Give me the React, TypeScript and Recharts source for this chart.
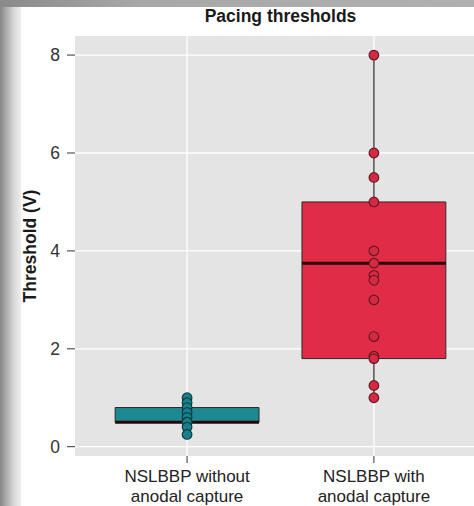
import React from 'react';
import {
  ComposedChart,
  Scatter,
  XAxis,
  YAxis,
  CartesianGrid,
  ReferenceArea,
  ReferenceLine,
} from 'recharts';

const categories = ['NSLBBP without\nanodal capture', 'NSLBBP with\nanodal capture'];
const withoutCapture = [1.0, 0.9, 0.8, 0.7, 0.6, 0.5, 0.5, 0.5, 0.4, 0.25];
const withCapture = [8, 6, 5.5, 5, 4, 3.75, 3.5, 3.4, 3, 2.25, 1.85, 1.8, 1.25, 1.0];
// [lower whisker, q1, median, q3, upper whisker]
const boxStats = [
  [0.25, 0.5, 0.5, 0.8, 1.0],
  [1.0, 1.8, 3.75, 5.0, 8.0],
];
const yTicks = [0, 2, 4, 6, 8];
const boxFill = ['#1b8892', '#e02c47'];
const pointFill = ['#17808a', '#d42a43'];
const pointStroke = ['#0b3c41', '#6a1824'];

const FONT = '"Liberation Sans", Arial, sans-serif';
const HALF = 0.385;

const pts1 = withoutCapture.map((v) => ({ x: 1, y: v }));
const pts2 = withCapture.map((v) => ({ x: 2, y: v }));

const XTick = ({ x, y, payload }: any) => {
  const lines = categories[payload.value - 1].split('\n');
  return (
    <text x={x} y={y + 17} textAnchor="middle" fontSize={17} fill="#222" fontFamily={FONT}>
      {lines.map((l, i) => (
        <tspan key={i} x={x} dy={i === 0 ? 0 : 20}>
          {l}
        </tspan>
      ))}
    </text>
  );
};

const Dot = (fill: string, stroke: string) => (props: any) => (
  <circle cx={props.cx} cy={props.cy} r={4.8} fill={fill} stroke={stroke} strokeWidth={1.2} />
);

export default function App() {
  return (
    <div
      style={{
        position: 'fixed',
        left: 0,
        top: 0,
        width: 474,
        height: 506,
        overflow: 'hidden',
        background: 'linear-gradient(to right, #878787 0px, #d8d8d8 14px, #ececec 20px)',
      }}
    >
      <div style={{ position: 'absolute', left: 0, top: 0, right: 0, height: 7, background: 'linear-gradient(to right, #8a8a8a, #a8a8a8 30%, #b0b0b0)' }} />
      <div style={{ position: 'absolute', left: 21, top: 7, right: 0, bottom: 0, background: '#fff' }} />
      <div
        style={{
          position: 'absolute',
          left: 75,
          width: 411,
          top: 6,
          textAlign: 'center',
          fontFamily: FONT,
          fontWeight: 'bold',
          fontSize: 17.5,
          color: '#1a1a1a',
        }}
      >
        Pacing thresholds
      </div>
      <div style={{ position: 'absolute', left: 0, top: 0 }}>
        <ComposedChart width={490} height={506} margin={{ top: 36, right: 4, bottom: 0, left: 0 }}>
          <CartesianGrid
            fill="#e4e4e4"
            stroke="#ffffff"
            strokeWidth={1.3}
            horizontalValues={yTicks}
            verticalValues={[1, 2]}
          />
          <XAxis
            type="number"
            dataKey="x"
            domain={[0.4, 2.6]}
            ticks={[1, 2]}
            allowDataOverflow
            height={50}
            axisLine={false}
            tickSize={7}
            tickLine={{ stroke: '#333', strokeWidth: 1 }}
            tick={<XTick />}
          />
          <YAxis
            type="number"
            dataKey="y"
            domain={[-0.19, 8.39]}
            ticks={yTicks}
            allowDataOverflow
            width={75}
            axisLine={false}
            tickSize={8}
            tickMargin={7}
            tickLine={{ stroke: '#333', strokeWidth: 1 }}
            tick={{ fontSize: 17.5, fill: '#333', fontFamily: FONT }}
            label={{
              content: ({ viewBox }: any) => (
                <text
                  x={36}
                  y={viewBox.y + viewBox.height / 2}
                  transform={`rotate(-90, 36, ${viewBox.y + viewBox.height / 2})`}
                  textAnchor="middle"
                  fontSize={17.5}
                  fontWeight="bold"
                  fill="#1a1a1a"
                  fontFamily={FONT}
                >
                  Threshold (V)
                </text>
              ),
            }}
          />
          {boxStats.map((s, i) => (
            <ReferenceLine
              key={'wl' + i}
              segment={[
                { x: i + 1, y: s[0] },
                { x: i + 1, y: s[1] },
              ]}
              stroke="#333"
              strokeWidth={1.3}
            />
          ))}
          {boxStats.map((s, i) => (
            <ReferenceLine
              key={'wu' + i}
              segment={[
                { x: i + 1, y: s[3] },
                { x: i + 1, y: s[4] },
              ]}
              stroke="#333"
              strokeWidth={1.3}
            />
          ))}
          {boxStats.map((s, i) => (
            <ReferenceArea
              key={'b' + i}
              x1={i + 1 - HALF}
              x2={i + 1 + HALF}
              y1={s[1]}
              y2={s[3]}
              fill={boxFill[i]}
              fillOpacity={1}
              stroke="#2a2a2a"
              strokeWidth={1}
              zIndex={450}
            />
          ))}
          {boxStats.map((s, i) => (
            <ReferenceLine
              key={'m' + i}
              segment={[
                { x: i + 1 - HALF, y: s[2] },
                { x: i + 1 + HALF, y: s[2] },
              ]}
              stroke="#2a0508"
              strokeWidth={3}
              zIndex={460}
            />
          ))}
          <Scatter data={pts1} isAnimationActive={false} zIndex={700} shape={Dot(pointFill[0], pointStroke[0])} />
          <Scatter data={pts2} isAnimationActive={false} zIndex={700} shape={Dot(pointFill[1], pointStroke[1])} />
        </ComposedChart>
      </div>
    </div>
  );
}
